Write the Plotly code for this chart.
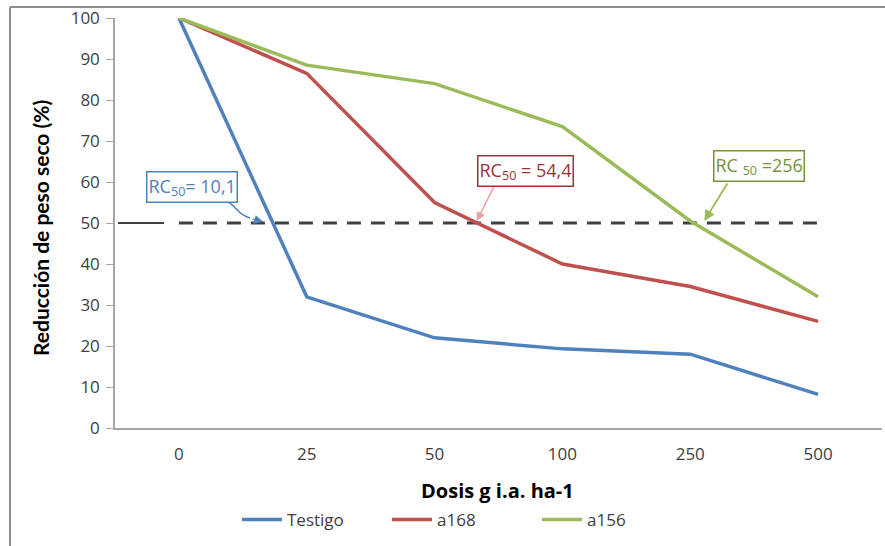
import plotly.graph_objects as go

dosis = ["0", "25", "50", "100", "250", "500"]
testigo = [100, 32, 22, 19.3, 18, 8.2]
a168 = [100, 86.5, 55, 40, 34.5, 26]
a156 = [100, 88.5, 84, 73.5, 50.5, 32]
ref50 = [50, 50, 50, 50, 50, 50]

BLUE = "#4F81BD"
RED = "#C0504D"
GREEN = "#9BBB59"
FONT = "Open Sans"
TFONT = "Lato"

fig = go.Figure()
fig.add_trace(go.Scatter(x=dosis, y=ref50, mode="lines", showlegend=False,
                         line=dict(color="#404040", width=3, dash="14px,10px"), hoverinfo="skip"))
fig.add_trace(go.Scatter(x=dosis, y=testigo, mode="lines", name="Testigo",
                         line=dict(color=BLUE, width=3.5)))
fig.add_trace(go.Scatter(x=dosis, y=a168, mode="lines", name="a168",
                         line=dict(color=RED, width=3.5)))
fig.add_trace(go.Scatter(x=dosis, y=a156, mode="lines", name="a156",
                         line=dict(color=GREEN, width=3.5)))

L, R, T, B = 115, 3, 18, 118
W, H = 885, 546
pw, ph = W - L - R, H - T - B

def px(x):
    return (x - L) / pw

def py(y):
    return (H - B - y) / ph

shapes = [
    dict(type="line", xref="paper", yref="paper", x0=px(10), x1=px(885), y0=py(7), y1=py(7),
         line=dict(color="#8C8C8C", width=2)),
    dict(type="line", xref="paper", yref="paper", x0=px(10), x1=px(10), y0=py(7), y1=py(546),
         line=dict(color="#8C8C8C", width=2)),
    dict(type="line", xref="paper", yref="y", x0=px(118), x1=px(164), y0=50, y1=50,
         line=dict(color="black", width=1.5)),
    dict(type="path", xref="paper", yref="paper",
         path=f"M {px(216)},{py(200)} C {px(236)},{py(199)} {px(234)},{py(214)} {px(250)},{py(218)}",
         line=dict(color=BLUE, width=1.5)),
]

box = dict(showarrow=False, xref="paper", yref="paper", xanchor="center", yanchor="middle",
           borderwidth=1.5, bgcolor="white", borderpad=1)

annotations = [
    dict(x=0.66, y=50.3, xref="x", yref="y", text="", showarrow=True, ax=-12, ay=-3,
         arrowcolor=BLUE, arrowwidth=1.5, arrowhead=2, arrowsize=1.2),
    dict(x=2.33, y=50.5, xref="x", yref="y", text="", showarrow=True, ax=18, ay=-36,
         arrowcolor="#E6A3A2", arrowwidth=1.5, arrowhead=2, arrowsize=1.2),
    dict(x=4.11, y=50.5, xref="x", yref="y", text="", showarrow=True, ax=24, ay=-39,
         arrowcolor=GREEN, arrowwidth=1.8, arrowhead=2, arrowsize=1.2),
    dict(box, x=px(192), y=py(187), text="RC<sub>50</sub>= 10,1",
         font=dict(family=FONT, size=18, color=BLUE), bordercolor=BLUE),
    dict(box, x=px(525), y=py(171), text="RC<sub>50</sub> = 54,4",
         font=dict(family=FONT, size=18, color="#953735"), bordercolor="#953735"),
    dict(box, x=px(759), y=py(166), text="RC <sub>50</sub> =256",
         font=dict(family=FONT, size=18, color="#76923C"), bordercolor="#76923C"),
    dict(xref="paper", yref="paper", x=px(40), y=py(228), xanchor="center", yanchor="middle",
         text="<b>Reducción de peso seco (%)</b>",
         showarrow=False, textangle=-90, font=dict(family=TFONT, size=21, color="black")),
    dict(xref="paper", yref="paper", x=px(497), y=py(491), xanchor="center", yanchor="middle",
         text="<b>Dosis g i.a. ha-1</b>",
         showarrow=False, font=dict(family=FONT, size=20, color="black")),
]

fig.update_layout(
    width=W, height=H,
    margin=dict(l=L, r=R, t=T, b=B),
    paper_bgcolor="white", plot_bgcolor="white",
    font=dict(family=FONT, size=14, color="#404040"),
    shapes=shapes, annotations=annotations,
    legend=dict(orientation="h", x=px(462), xanchor="center", y=py(520), yanchor="middle",
                font=dict(family=FONT, size=17, color="#404040"), itemwidth=40,
                tracegroupgap=0, entrywidth=95),
    xaxis=dict(type="category", range=[-0.5, 5.5], showgrid=False, showline=True,
               linecolor="#A6A6A6", linewidth=1.5, ticks="", ticklabelstandoff=10,
               tickfont=dict(family=FONT, size=17, color="#404040"), zeroline=False,
               fixedrange=True),
    yaxis=dict(range=[0, 100], dtick=10, showgrid=False, showline=True, linecolor="#A6A6A6",
               linewidth=1.5, ticks="outside", ticklen=7, tickcolor="#A6A6A6",
               ticklabelstandoff=3,
               tickfont=dict(family=FONT, size=17, color="#404040"), zeroline=False,
               fixedrange=True),
)

fig.write_html("out.html")
